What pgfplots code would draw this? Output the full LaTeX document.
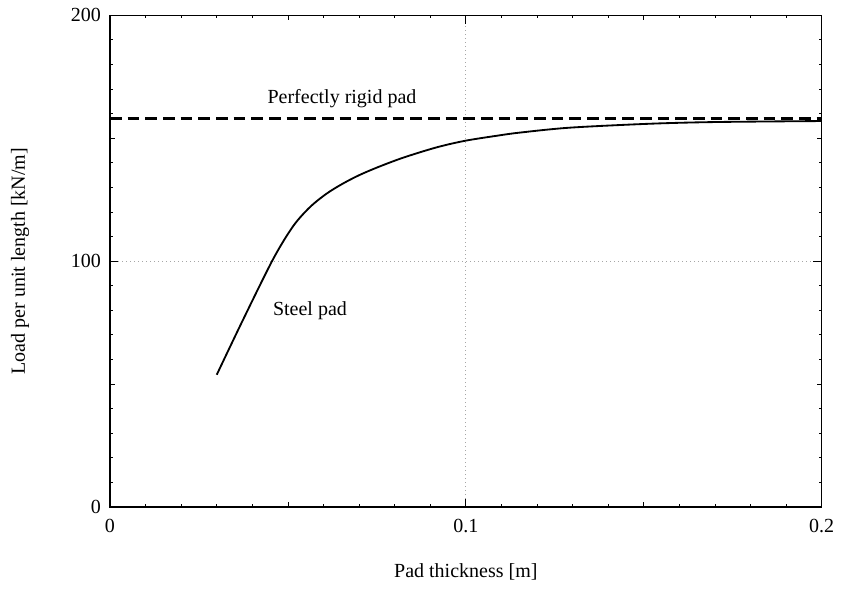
\documentclass[border=0pt]{standalone}
\usepackage{fontspec}
\setmainfont{Liberation Serif}
\usepackage{pgfplots}
\pgfplotsset{compat=1.18}
\begin{document}
\begin{tikzpicture}
\begin{axis}[
  scale only axis,
  width=427pt, height=295pt,
  xmin=0, xmax=0.2, ymin=0, ymax=200,
  xtick={0,0.1,0.2}, xticklabels={0,0.1,0.2},
  ytick={0,100,200}, yticklabels={0,100,200},
  minor xtick={0.01,0.02,0.03,0.04,0.06,0.07,0.08,0.09,0.11,0.12,0.13,0.14,0.16,0.17,0.18,0.19},
  minor ytick={10,20,30,40,60,70,80,90,110,120,130,140,160,170,180,190},
  extra x ticks={0.05,0.15}, extra x tick labels={},
  extra y ticks={50,150}, extra y tick labels={},
  extra tick style={major tick length=3pt, grid=none},
  tick align=inside, ticks=both,
  major tick length=5pt, minor tick length=1.8pt,
  tick style={black, line width=0.5pt},
  xtick pos=both, ytick pos=both,
  axis line style={line width=0.7pt},
  grid=major,
  major grid style={dotted, gray!70, line width=0.5pt},
  /pgf/number format/assume math mode=true,
  xticklabel style={yshift=-4pt},
  yticklabel style={xshift=-2pt},
  xlabel={Pad thickness [m]},
  ylabel={Load per unit length [kN/m]},
  xlabel style={at={(axis description cs:0.5,0)}, yshift=-39pt, anchor=center},
  ylabel style={at={(axis description cs:0,0.5)}, yshift=54pt, anchor=center},
  font=\fontsize{12}{14}\selectfont,
  clip=false,
]
\addplot[black, line width=1.5pt, dash pattern=on 7pt off 3.6pt] coordinates {(0,158) (0.2,158)};
\addplot[black, line width=1.1pt, smooth] coordinates {
(0.0300,53.8) (0.0374,76.2) (0.0459,101.0) (0.0515,114.3) (0.0562,122.0)
(0.0609,127.5) (0.0655,131.6) (0.0702,135.1) (0.0754,138.3) (0.0824,142.1)
(0.0918,146.3) (0.0999,149.0) (0.1091,151.1) (0.1152,152.3) (0.1292,154.3)
(0.1517,155.9) (0.1704,156.6) (0.2000,157.0)};
\node at (axis cs:0.0652,166.2) {Perfectly rigid pad};
\node at (axis cs:0.0562,80.0) {Steel pad};
\coordinate (O) at (rel axis cs:0,0);
\end{axis}
\pgfresetboundingbox
\path[use as bounding box] (O) ++(-66pt,-48.6pt) rectangle ++(504.6pt,352.8pt);
\end{tikzpicture}
\end{document}
